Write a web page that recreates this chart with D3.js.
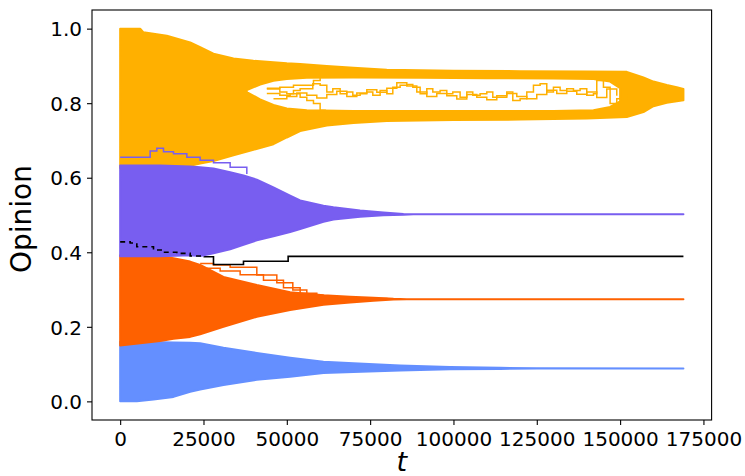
<!DOCTYPE html>
<html>
<head>
<meta charset="utf-8">
<script src="https://cdn.jsdelivr.net/npm/d3@7"></script>
<style>
  body { margin: 0; background: #fff; }
  svg { display: block; }
  text { font-family: "DejaVu Sans", sans-serif; }
</style>
</head>
<body>
<svg id="chart" width="745" height="476"></svg>
<script>
// ---- Opinion clusters: spread of agent opinions over time (upper / lower envelope) ----
const yellowT     = [0, 6000, 7000, 14000, 21000, 24000, 28000, 34000, 40000, 46000, 50000, 54000, 62000, 70000, 80000, 100000, 120000, 140000, 152000, 157000, 160000, 164000, 167000, 169000];
const yellowUpper = [1.0, 1.0, 0.99, 0.981, 0.963, 0.95, 0.933, 0.92, 0.914, 0.91, 0.907, 0.905, 0.9, 0.895, 0.89, 0.887, 0.886, 0.885, 0.884, 0.869, 0.858, 0.849, 0.843, 0.838];
const yellowLower = [0.626, 0.627, 0.628, 0.629, 0.632, 0.638, 0.645, 0.66, 0.675, 0.69, 0.708, 0.725, 0.74, 0.747, 0.752, 0.755, 0.756, 0.759, 0.763, 0.776, 0.792, 0.801, 0.805, 0.808];

// gap between the two yellow sub-groups
const gapT      = [38000, 42000, 46000, 50000, 56000, 70000, 90000, 110000, 130000, 142000, 147000, 150000];
const gapTop    = [0.835, 0.85, 0.86, 0.865, 0.868, 0.869, 0.868, 0.867, 0.866, 0.865, 0.858, 0.84];
const gapBottom = [0.83, 0.81, 0.795, 0.786, 0.781, 0.779, 0.779, 0.779, 0.779, 0.781, 0.79, 0.805];

const purpleT     = [0, 12000, 21000, 24000, 28000, 33000, 37000, 41000, 46000, 51000, 54000, 61000, 64000, 72000, 79000, 85000, 88000, 169000];
const purpleUpper = [0.633, 0.633, 0.63, 0.628, 0.625, 0.615, 0.606, 0.595, 0.574, 0.552, 0.539, 0.525, 0.521, 0.512, 0.507, 0.503, 0.502, 0.502];
const purpleLower = [0.389, 0.389, 0.392, 0.39, 0.397, 0.408, 0.42, 0.432, 0.443, 0.454, 0.462, 0.482, 0.488, 0.495, 0.499, 0.501, 0.502, 0.502];

const orangeT     = [0, 12000, 16000, 21000, 24000, 31000, 41000, 51000, 61000, 69000, 76000, 82000, 86000, 169000];
const orangeUpper = [0.392, 0.39, 0.384, 0.375, 0.366, 0.334, 0.312, 0.293, 0.285, 0.281, 0.278, 0.275, 0.274, 0.274];
const orangeLower = [0.15, 0.162, 0.168, 0.173, 0.18, 0.2, 0.227, 0.245, 0.259, 0.265, 0.27, 0.273, 0.274, 0.274];

const blueT     = [0, 5000, 10000, 16000, 21000, 24000, 31000, 41000, 51000, 61000, 70000, 84000, 99000, 114000, 125000, 169000];
const blueUpper = [0.16, 0.16, 0.159, 0.158, 0.157, 0.156, 0.144, 0.13, 0.117, 0.106, 0.102, 0.096, 0.092, 0.09, 0.089, 0.088];
const blueLower = [0.0, 0.0, 0.005, 0.012, 0.026, 0.032, 0.044, 0.058, 0.066, 0.076, 0.079, 0.083, 0.086, 0.087, 0.088, 0.088];

// ---- Individual trajectories ----
const blackT = [0, 3000, 5000, 10000, 13000, 17000, 21000, 25000, 28000, 37000, 50400, 169000];
const blackV = [0.428, 0.425, 0.415, 0.406, 0.40, 0.397, 0.39, 0.388, 0.367, 0.376, 0.389, 0.389];

const wander1T = [44000, 47900, 50000, 52000, 54000, 57800, 60000, 62000, 63800, 66000, 68000, 69800, 72000, 74000, 75800, 78000, 80000, 81800, 84000, 86000, 87800, 90000, 92000, 93800, 96000, 98000, 99800, 102000, 104000, 105800, 108000, 110000, 111800, 114000, 116000, 117800, 120000, 122000, 124000, 126000, 128000, 130000, 132000, 134000, 136000, 138000, 140000, 142000, 143000, 145000, 147000, 149000, 152000];
const wander1V = [0.838, 0.830, 0.825, 0.834, 0.839, 0.852, 0.848, 0.830, 0.839, 0.825, 0.830, 0.821, 0.825, 0.830, 0.821, 0.834, 0.825, 0.843, 0.848, 0.850, 0.843, 0.825, 0.839, 0.830, 0.834, 0.825, 0.830, 0.816, 0.830, 0.821, 0.825, 0.830, 0.816, 0.816, 0.830, 0.807, 0.812, 0.830, 0.848, 0.852, 0.830, 0.843, 0.834, 0.839, 0.834, 0.839, 0.821, 0.825, 0.861, 0.843, 0.799, 0.812, 0.825];

const wander2T = [46000, 50000, 53000, 56000, 59000, 62000, 65000, 68000, 71000, 74000, 77000, 80000, 83000, 86000, 89000, 92000, 95000, 98000, 101000, 104000, 107000, 110000, 113000, 116000, 119000, 122000, 125000, 128000, 131000, 134000, 137000, 140000, 143000, 146000, 149000];
const wander2V = [0.812, 0.818, 0.827, 0.821, 0.814, 0.823, 0.832, 0.818, 0.827, 0.836, 0.829, 0.84, 0.855, 0.846, 0.83, 0.818, 0.826, 0.82, 0.811, 0.823, 0.816, 0.809, 0.82, 0.826, 0.818, 0.812, 0.823, 0.835, 0.826, 0.832, 0.824, 0.83, 0.815, 0.838, 0.82];

const dropT = [44000, 47900, 51000, 54000, 56000, 58000, 60000, 61500];
const dropV = [0.826, 0.821, 0.825, 0.816, 0.807, 0.799, 0.781, 0.772];

const riseT = [44000, 47900, 52000, 58000, 60000];
const riseV = [0.84, 0.843, 0.848, 0.861, 0.869];

const purpleHighT = [0, 9000, 11000, 13000, 16000, 20000, 24000, 28000, 33000, 38000];
const purpleHighV = [0.655, 0.672, 0.679, 0.67, 0.664, 0.655, 0.647, 0.64, 0.628, 0.61];

const orangeOut1T = [24000, 28000, 33000, 41000, 47000, 51800, 56000, 61000, 70000, 80000];
const orangeOut1V = [0.37, 0.366, 0.36, 0.339, 0.318, 0.299, 0.285, 0.28, 0.276, 0.274];
const orangeOut2T = [26000, 30000, 36000, 43000, 49000, 54000, 59000, 65000, 75000];
const orangeOut2V = [0.357, 0.35, 0.34, 0.325, 0.305, 0.29, 0.282, 0.278, 0.275];

// ---- Axes ----
const xTicks = [0, 25000, 50000, 75000, 100000, 125000, 150000, 175000];
const yTicks = [0.0, 0.2, 0.4, 0.6, 0.8, 1.0];

const COL = { yellow: "#FFB000", purple: "#785EF0", orange: "#FE6100", blue: "#648FFF" };

const svg = d3.select("#chart");
const L = 92, R = 711.6, T = 10, B = 420;

const x = d3.scaleLinear().domain([-8450, 177450]).range([L, R]);
const y = d3.scaleLinear().domain([-0.05, 1.05]).range([B, T]);

const zip = (ts, hi, lo) => ts.map((t, i) => ({ t, hi: hi[i], lo: lo[i] }));
const pts = (ts, vs) => ts.map((t, i) => ({ t, v: vs[i] }));

const area = d3.area().x(d => x(d.t)).y0(d => y(d.lo)).y1(d => y(d.hi));
const stepLine = d3.line().x(d => x(d.t)).y(d => y(d.v)).curve(d3.curveStepAfter);

const g = svg.append("g");

function band(ts, hi, lo, col, gap) {
  let d = area(zip(ts, hi, lo));
  if (gap) d += area(zip(gap.t, gap.hi, gap.lo));
  g.append("path")
    .attr("d", d)
    .attr("fill", col)
    .attr("fill-rule", "evenodd")
    .attr("stroke", col)
    .attr("stroke-width", 2)
    .attr("stroke-linejoin", "round");
}

function traj(ts, vs, col, w, dash) {
  const p = g.append("path")
    .attr("d", stepLine(pts(ts, vs)))
    .attr("fill", "none")
    .attr("stroke", col)
    .attr("stroke-width", w || 1.5);
  if (dash) p.attr("stroke-dasharray", dash);
}

band(blueT, blueUpper, blueLower, COL.blue);
band(orangeT, orangeUpper, orangeLower, COL.orange);
traj(orangeOut1T, orangeOut1V, COL.orange);
traj(orangeOut2T, orangeOut2V, COL.orange);

// black trajectory: later part fully visible, early part partly hidden by the purple group
const bIdx = blackT.indexOf(25000);
traj(blackT.slice(bIdx), blackV.slice(bIdx), "#000", 1.6);

band(yellowT, yellowUpper, yellowLower, COL.yellow, { t: gapT, hi: gapTop, lo: gapBottom });
band(purpleT, purpleUpper, purpleLower, COL.purple);
traj(blackT.slice(0, bIdx + 1), blackV.slice(0, bIdx + 1), "#000", 1.6, "5,4");
traj(purpleHighT, purpleHighV, COL.purple);

traj(wander1T, wander1V, COL.yellow);
traj(wander2T, wander2V, COL.yellow);
traj(dropT, dropV, COL.yellow);
traj(riseT, riseV, COL.yellow);

// ---- Axes and frame ----
const xAxis = svg.append("g")
  .attr("transform", `translate(0,${B})`)
  .call(d3.axisBottom(x).tickValues(xTicks).tickFormat(d3.format("d")).tickSize(5).tickPadding(7));
const yAxis = svg.append("g")
  .attr("transform", `translate(${L},0)`)
  .call(d3.axisLeft(y).tickValues(yTicks).tickFormat(d3.format(".1f")).tickSize(5).tickPadding(5));

[xAxis, yAxis].forEach(a => {
  a.select(".domain").remove();
  a.selectAll(".tick line").attr("stroke", "#000").attr("stroke-width", 1.1);
  a.selectAll(".tick text")
    .attr("fill", "#000")
    .style("font-family", "'DejaVu Sans', sans-serif")
    .style("font-size", "20px");
});
yAxis.selectAll(".tick text").attr("dy", "0.36em");

svg.append("rect")
  .attr("x", L).attr("y", T)
  .attr("width", R - L).attr("height", B - T)
  .attr("fill", "none").attr("stroke", "#000").attr("stroke-width", 1.1);

svg.append("text")
  .attr("transform", `translate(31,219) rotate(-90)`)
  .attr("text-anchor", "middle")
  .style("font-size", "28px")
  .attr("fill", "#000")
  .text("Opinion");

svg.append("text")
  .attr("x", (L + R) / 2).attr("y", 471)
  .attr("text-anchor", "middle")
  .style("font-size", "27px")
  .style("font-style", "italic")
  .attr("fill", "#000")
  .text("t");
</script>
</body>
</html>
